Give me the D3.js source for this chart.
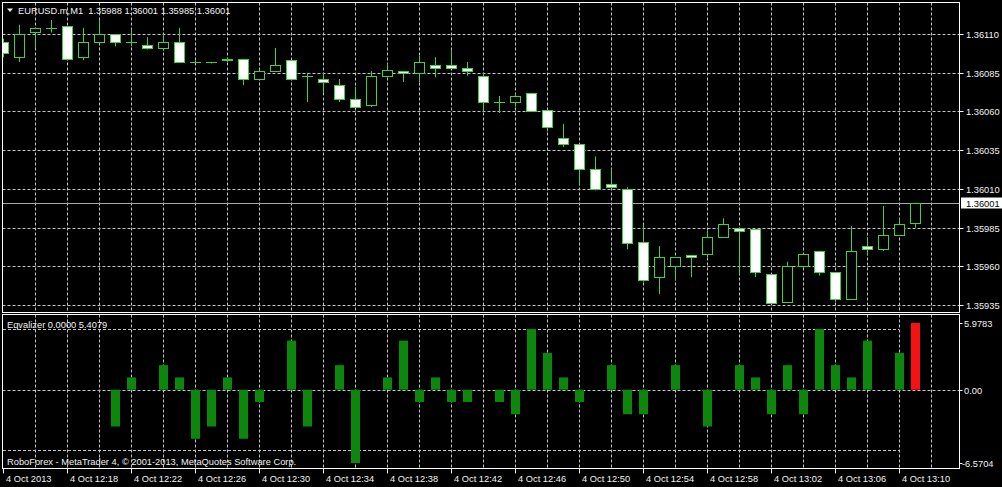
<!DOCTYPE html>
<html><head><meta charset="utf-8">
<script src="https://cdn.jsdelivr.net/npm/d3@7"></script>
<style>html,body{margin:0;padding:0;background:#000;overflow:hidden}</style>
</head><body><svg id="c" width="1002" height="487"></svg>
<script>
// ---------- data ----------
const titleText = "EURUSD.m,M1  1.35988 1.36001 1.35985 1.36001";
const indicatorText = "Eqvalizer 0.0000 5.4079";
const copyrightText = "RoboForex - MetaTrader 4, \u00a9 2001-2013, MetaQuotes Software Corp.";
const firstBarTime = "2013-10-04 12:14";
const opens = [1.36105,1.36095,1.36111,1.36114,1.36115,1.36095,1.36105,1.36110,1.36105,1.36103,
  1.36101,1.36105,1.36092,1.36092,1.36093,1.36094,1.36081,1.36086,1.36093,1.36083,
  1.36081,1.36077,1.36068,1.36064,1.36083,1.36086,1.36085,1.36090,1.36090,1.36088,
  1.36083,1.36066,1.36066,1.36072,1.36061,1.36043,1.36039,1.36023,1.36013,1.36010,
  1.35976,1.35953,1.35960,1.35967,1.35968,1.35979,1.35985,1.35984,1.35955,1.35937,
  1.35960,1.35970,1.35956,1.35939,1.35973,1.35971,1.35980,1.35988];
const highs = [1.36107,1.36116,1.36114,1.36119,1.36115,1.36114,1.36119,1.36110,1.36113,1.36108,
  1.36110,1.36114,1.36093,1.36092,1.36095,1.36094,1.36087,1.36101,1.36093,1.36085,
  1.36085,1.36081,1.36076,1.36086,1.36091,1.36086,1.36096,1.36095,1.36100,1.36092,
  1.36085,1.36070,1.36072,1.36072,1.36061,1.36052,1.36039,1.36031,1.36023,1.36011,
  1.35987,1.35973,1.35966,1.35967,1.35983,1.35991,1.35985,1.35984,1.35955,1.35963,
  1.35968,1.35970,1.35956,1.35986,1.35979,1.35999,1.35991,1.36001];
const lows = [1.36095,1.36092,1.36101,1.36111,1.36094,1.36093,1.36104,1.36102,1.36102,1.36100,
  1.36099,1.36092,1.36091,1.36091,1.36092,1.36077,1.36080,1.36086,1.36081,1.36066,
  1.36072,1.36066,1.36063,1.36063,1.36083,1.36079,1.36079,1.36082,1.36088,1.36083,
  1.36060,1.36059,1.36063,1.36060,1.36047,1.36037,1.36012,1.36009,1.36010,1.35971,
  1.35950,1.35942,1.35951,1.35953,1.35966,1.35979,1.35955,1.35953,1.35936,1.35937,
  1.35959,1.35954,1.35937,1.35939,1.35967,1.35970,1.35980,1.35985];
const closes = [1.36098,1.36110,1.36114,1.36114,1.36094,1.36105,1.36110,1.36105,1.36105,1.36101,
  1.36105,1.36092,1.36092,1.36092,1.36094,1.36081,1.36086,1.36090,1.36081,1.36083,
  1.36079,1.36068,1.36063,1.36083,1.36087,1.36085,1.36092,1.36088,1.36088,1.36086,
  1.36066,1.36066,1.36070,1.36060,1.36050,1.36039,1.36023,1.36010,1.36011,1.35975,
  1.35951,1.35966,1.35966,1.35966,1.35979,1.35987,1.35983,1.35956,1.35936,1.35960,
  1.35968,1.35956,1.35939,1.35970,1.35971,1.35980,1.35987,1.36001];
const eqGreen = [0,0,0,0,0,0,0,-3.3,1.1,0,
  2.2,1.1,-4.4,-3.3,1.1,-4.4,-1.1,0,4.4,-3.3,
  0,2.2,-6.5704,0,1.1,4.4,-1.1,1.1,-1.1,-1.1,
  0,-1.1,-2.2,5.45,3.3,1.1,-1.1,0,2.2,-2.2,
  -2.2,0,2.2,0,-3.3,0,2.2,1.1,-2.2,2.2,
  -2.2,5.45,2.2,1.1,4.4,0,3.3,0];
const eqRed = [0,0,0,0,0,0,0,0,0,0, 0,0,0,0,0,0,0,0,0,0, 0,0,0,0,0,0,0,0,0,0,
  0,0,0,0,0,0,0,0,0,0, 0,0,0,0,0,0,0,0,0,0, 0,0,0,0,0,0,0,5.9783];
const eqLevels = [5.4, -5.4];
const priceTicks = [1.36110,1.36085,1.36060,1.36035,1.36010,1.35985,1.35960,1.35935];
const lastPrice = 1.36001;
const eqTicks = [5.9783, 0, -6.5704];
const eqTickLabels = ["5.9783","0.00","-6.5704"];
const timeTicks = ["12:14","12:18","12:22","12:26","12:30","12:34","12:38","12:42","12:46","12:50","12:54","12:58","13:02","13:06","13:10"];
const timeTickLabels = ["4 Oct 2013","4 Oct 12:18","4 Oct 12:22","4 Oct 12:26","4 Oct 12:30","4 Oct 12:34","4 Oct 12:38","4 Oct 12:42","4 Oct 12:46","4 Oct 12:50","4 Oct 12:54","4 Oct 12:58","4 Oct 13:02","4 Oct 13:06","4 Oct 13:10"];

// ---------- layout ----------
const W = 1002, H = 487;
const L = 2.5, R = 959.5;
const upTop = 2.5, upBot = 312.5, loTop = 314.5, loBot = 468.5;
const FONT = "'Liberation Sans', Arial, sans-serif";
const FS = "9.3px";
const candleColor = "#3fd23f";
const gridColor = "#c4c4c4";

const parse = d3.timeParse("%Y-%m-%d %H:%M");
const t0 = parse(firstBarTime);
const barTimes = opens.map((_, i) => d3.timeMinute.offset(t0, i));
const x = d3.scaleTime().domain([t0, barTimes[barTimes.length - 1]]).range([3, 3 + 16 * (opens.length - 1)]);
const y = d3.scaleLinear().domain([1.35935, 1.36110]).range([305, 34]);
const ye = d3.scaleLinear().domain([-6.5704, 5.9783]).range([463, 323]);

const svg = d3.select("#c");
svg.append("rect").attr("width", W).attr("height", H).attr("fill", "#000");
const defs = svg.append("defs");
defs.append("clipPath").attr("id", "cu").append("rect").attr("x", 3).attr("y", 3).attr("width", R - 3).attr("height", upBot - 3);
defs.append("clipPath").attr("id", "cl").append("rect").attr("x", 3).attr("y", loTop + 0.5).attr("width", R - 3).attr("height", loBot - loTop - 1);

const gridTimes = d3.timeMinute.every(2).range(d3.timeMinute.offset(t0, 2), d3.timeMinute.offset(t0, opens.length + 1));
const up = svg.append("g").attr("clip-path", "url(#cu)");
const lo = svg.append("g").attr("clip-path", "url(#cl)");

[[up, upTop, upBot], [lo, loTop, loBot]].forEach(([g, a, b]) => {
  g.selectAll("line.vg").data(gridTimes).join("line")
    .attr("x1", d => Math.round(x(d)) + 0.5).attr("x2", d => Math.round(x(d)) + 0.5)
    .attr("y1", a).attr("y2", b)
    .attr("stroke", gridColor).attr("stroke-width", 1).attr("stroke-dasharray", "3,2");
});
up.selectAll("line.hg").data(priceTicks).join("line")
  .attr("x1", L).attr("x2", R)
  .attr("y1", d => Math.round(y(d)) + 0.5).attr("y2", d => Math.round(y(d)) + 0.5)
  .attr("stroke", gridColor).attr("stroke-dasharray", "3,2");

up.append("line").attr("x1", L).attr("x2", R)
  .attr("y1", Math.round(y(lastPrice)) + 0.5).attr("y2", Math.round(y(lastPrice)) + 0.5)
  .attr("stroke", "#a8a8a8");

// candles
const idx = d3.range(opens.length);
up.selectAll("line.wick").data(idx).join("line")
  .attr("x1", i => Math.round(x(barTimes[i])) + 0.5).attr("x2", i => Math.round(x(barTimes[i])) + 0.5)
  .attr("y1", i => y(highs[i])).attr("y2", i => y(lows[i]))
  .attr("stroke", candleColor);
idx.forEach(i => {
  const cx = Math.round(x(barTimes[i]));
  const top = y(Math.max(opens[i], closes[i]));
  const bot = y(Math.min(opens[i], closes[i]));
  if (bot - top < 1) {
    up.append("line").attr("x1", cx - 5).attr("x2", cx + 6)
      .attr("y1", Math.round(top) + 0.5).attr("y2", Math.round(top) + 0.5)
      .attr("stroke", candleColor);
  } else {
    up.append("rect").attr("x", cx - 4.5).attr("y", Math.round(top) + 0.5)
      .attr("width", 10).attr("height", Math.max(1, Math.round(bot) - Math.round(top)))
      .attr("fill", closes[i] > opens[i] ? "#000" : "#ffffff")
      .attr("stroke", candleColor);
  }
});

// indicator pane
lo.append("line").attr("x1", L).attr("x2", R)
  .attr("y1", Math.round(ye(0)) + 0.5).attr("y2", Math.round(ye(0)) + 0.5)
  .attr("stroke", gridColor).attr("stroke-dasharray", "3,2");
lo.selectAll("line.lv").data(eqLevels).join("line")
  .attr("x1", x(barTimes[0])).attr("x2", x(barTimes[opens.length - 2]))
  .attr("y1", d => Math.round(ye(d)) + 0.5).attr("y2", d => Math.round(ye(d)) + 0.5)
  .attr("stroke", gridColor).attr("stroke-dasharray", "3,2");
function bars(vals, color) {
  lo.append("g").selectAll("rect").data(idx.filter(i => vals[i] !== 0)).join("rect")
    .attr("x", i => Math.round(x(barTimes[i])) - 4)
    .attr("width", 9)
    .attr("y", i => ye(Math.max(0, vals[i])))
    .attr("height", i => Math.abs(ye(vals[i]) - ye(0)))
    .attr("fill", color);
}
bars(eqGreen, "#0c860c");
bars(eqRed, "#f41212");

// borders
svg.append("rect").attr("x", L).attr("y", upTop).attr("width", R - L).attr("height", upBot - upTop)
  .attr("fill", "none").attr("stroke", "#ffffff");
svg.append("rect").attr("x", L).attr("y", loTop).attr("width", R - L).attr("height", loBot - loTop)
  .attr("fill", "none").attr("stroke", "#ffffff");

// texts
const txt = (s, px, py, anchor, fill) => svg.append("text").text(s)
  .attr("x", px).attr("y", py).attr("dy", "0.35em")
  .attr("font-family", FONT).attr("font-size", FS)
  .attr("fill", fill || "#f2f2f2").attr("text-anchor", anchor || "start")
  .style("white-space", "pre");

svg.append("path").attr("d", "M7,8.5 L13,8.5 L10,12 Z").attr("fill", "#f2f2f2");
txt(titleText, 18, 10.5);
txt(indicatorText, 7, 325);
txt(copyrightText, 7, 461.5);

priceTicks.forEach(p => {
  const py = Math.round(y(p)) + 0.5;
  svg.append("line").attr("x1", R).attr("x2", R + 4).attr("y1", py).attr("y2", py).attr("stroke", "#f2f2f2");
  txt(d3.format(".5f")(p), 966, py);
});
{
  const py = Math.round(y(lastPrice)) + 0.5;
  svg.append("rect").attr("x", 961).attr("y", py - 6).attr("width", 41).attr("height", 11).attr("fill", "#ffffff");
  txt(d3.format(".5f")(lastPrice), 966, py, "start", "#000");
}
eqTicks.forEach((v, i) => {
  const py = Math.round(ye(v)) + 0.5;
  svg.append("line").attr("x1", R).attr("x2", R + 3).attr("y1", py).attr("y2", py).attr("stroke", "#f2f2f2");
  txt(eqTickLabels[i], v < 0 ? 962 : 964, py);
});

timeTicks.forEach((t, i) => {
  const tx = Math.round(x(parse("2013-10-04 " + t))) + 0.5;
  svg.append("line").attr("x1", tx).attr("x2", tx).attr("y1", loBot).attr("y2", loBot + 5).attr("stroke", "#f2f2f2");
  txt(timeTickLabels[i], tx + 2.5, 478.5);
});
</script></body></html>
